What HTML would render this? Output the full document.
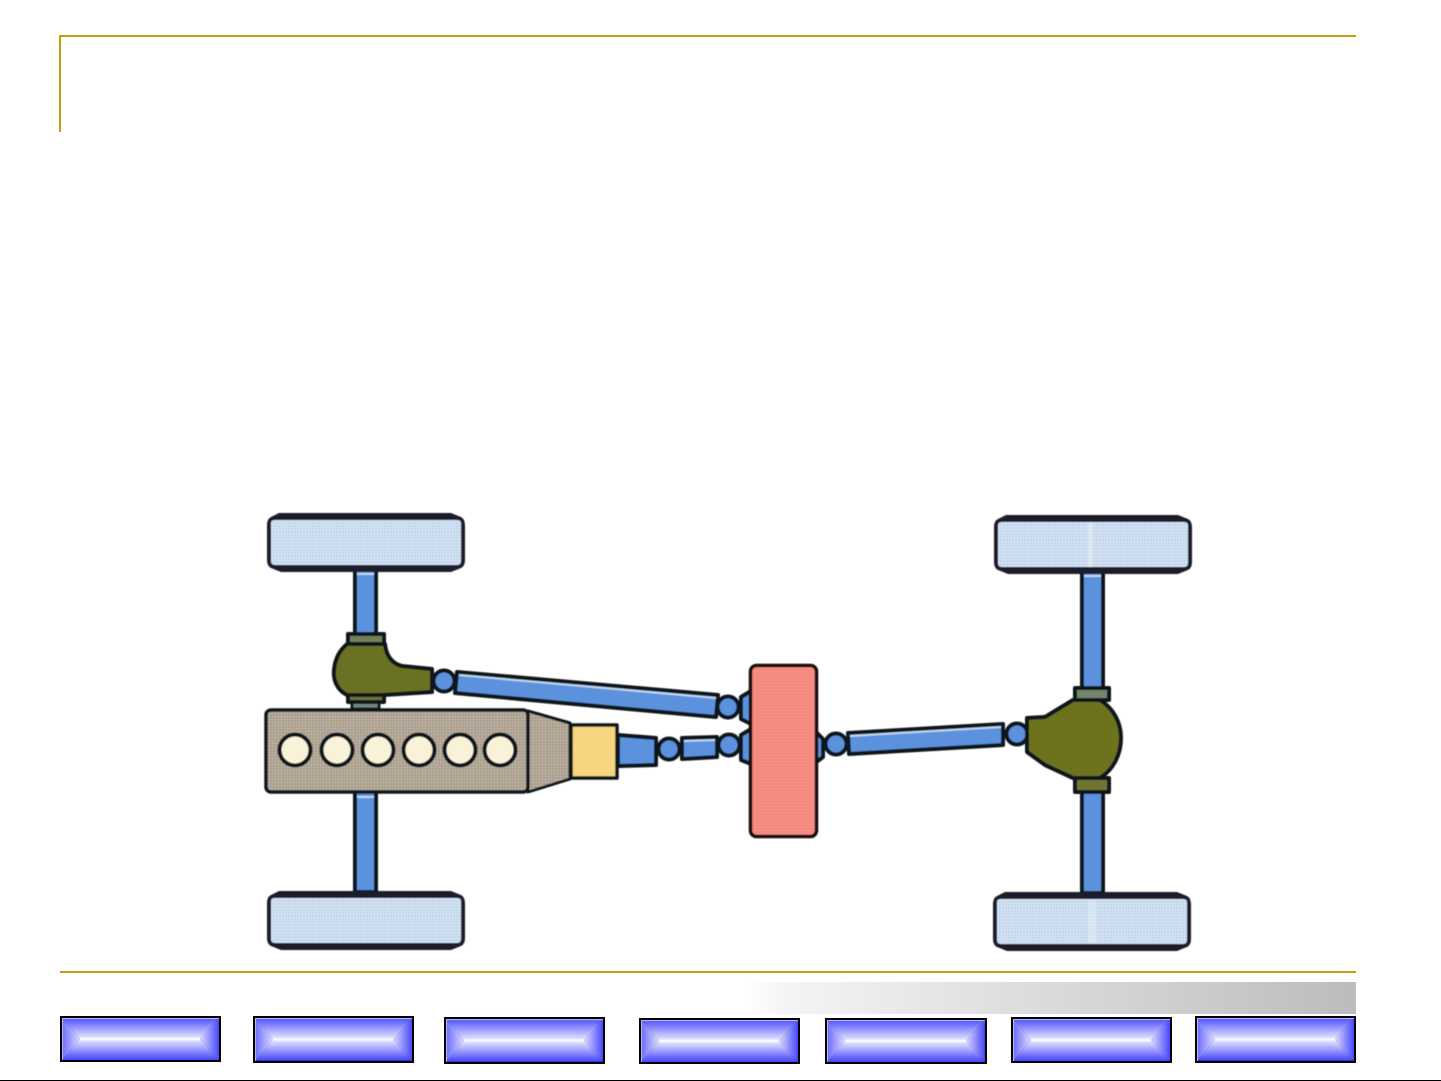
<!DOCTYPE html>
<html><head><meta charset="utf-8"><style>
html,body{margin:0;padding:0;background:#fff;width:1441px;height:1081px;overflow:hidden}
svg{display:block}
</style></head><body>
<svg width="1441" height="1081" viewBox="0 0 1441 1081" xmlns="http://www.w3.org/2000/svg">
<defs>
<filter id="soft" x="-5%" y="-5%" width="110%" height="110%"><feGaussianBlur stdDeviation="0.55"/></filter>
<filter id="line" x="-5%" y="-200%" width="110%" height="500%"><feGaussianBlur stdDeviation="0.7"/></filter>
<linearGradient id="bar" x1="0" x2="1" y1="0" y2="0"><stop offset="0" stop-color="#fff"/><stop offset=".06" stop-color="#f5f5f5"/><stop offset="1" stop-color="#bcbcbc"/></linearGradient>
<linearGradient id="bt" x1="0" x2="0" y1="0" y2="1"><stop offset="0" stop-color="#5050ff"/><stop offset=".85" stop-color="#d4d4ff"/><stop offset="1" stop-color="#e8e8ff"/></linearGradient>
<linearGradient id="bb" x1="0" x2="0" y1="1" y2="0"><stop offset="0" stop-color="#4444ff"/><stop offset=".85" stop-color="#d4d4ff"/><stop offset="1" stop-color="#e8e8ff"/></linearGradient>
<linearGradient id="bl" x1="0" x2="1" y1="0" y2="0"><stop offset="0" stop-color="#6a6aff"/><stop offset="1" stop-color="#dcdcff"/></linearGradient>
<linearGradient id="br" x1="1" x2="0" y1="0" y2="0"><stop offset="0" stop-color="#4848ff"/><stop offset="1" stop-color="#dcdcff"/></linearGradient>
<pattern id="dither" width="3" height="3" patternUnits="userSpaceOnUse"><circle cx="1" cy="1" r="0.8" fill="#000" fill-opacity=".2"/><circle cx="2.500" cy="2.500" r="0.7" fill="#fff" fill-opacity=".25"/></pattern>
<g id="wheel">
<path d="M12 0 H184 L194 4 Q198 6 198 13 V47 Q198 53 194 55 L184 59 H14 L4 55 Q0 53 0 47 V12 Q0 6 4 4 Z" fill="#1d1d2a"/>
<path d="M4 10 Q4 7 8 7 H190 Q194 7 194 10 V48 Q194 52 190 52 H8 Q4 52 4 48 Z" fill="#d0e2f6"/>
<path d="M4 10 Q4 7 8 7 H190 Q194 7 194 10 V48 Q194 52 190 52 H8 Q4 52 4 48 Z" fill="url(#dither)" opacity=".7"/>
</g>
<g id="btn">
<polygon points="0,0 157,0 138,20 18,20" fill="url(#bt)"/>
<polygon points="0,40 157,40 138,20 18,20" fill="url(#bb)"/>
<polygon points="0,0 18,20 0,40" fill="url(#bl)"/>
<polygon points="157,0 138,20 157,40" fill="url(#br)"/>
<rect x="18" y="19" width="120" height="2" fill="#fff" filter="url(#line)"/>
<rect x="0" y="0" width="157" height="1" fill="#b4b4ee"/>
<rect x="0" y="0" width="1" height="40" fill="#b4b4ee"/>
</g>
</defs>

<rect width="1441" height="1081" fill="#fff"/>

<!-- frame -->
<rect x="59" y="35" width="1297" height="2" fill="#cc9c08"/>
<rect x="59" y="35" width="2" height="97" fill="#cc9c08"/>
<rect x="60" y="971" width="1296" height="2" fill="#cc9c08"/>
<rect x="745" y="982" width="611" height="32" fill="url(#bar)"/>
<rect x="0" y="1080" width="1441" height="1" fill="#000"/>

<!-- chassis -->
<g filter="url(#soft)" stroke-linejoin="round">
<g fill="#5b92dd" stroke="#11151c" stroke-width="4">
<rect x="355" y="570" width="21" height="66"/>
<rect x="355" y="790" width="21" height="102"/>
<rect x="1082" y="572" width="21" height="118"/>
<rect x="1082" y="790" width="21" height="103"/>
<polygon points="457,672 718,695 716,717 455,693"/>
<polygon points="618,735 656,738 656,765 618,766"/>
<polygon points="682,738 717,737 717,757 682,759"/>
<polygon points="848,733 1003,724 1003,745 849,754"/>
<polygon points="741,697 751,691 751,724 741,719"/>
<polygon points="741,735 751,729 751,764 741,760"/>
<polygon points="815,731 823,739 823,757 815,763"/>
<circle cx="444" cy="681" r="10.500"/>
<circle cx="728" cy="707" r="10.500"/>
<circle cx="669" cy="749" r="10.500"/>
<circle cx="729" cy="745" r="10.500"/>
<circle cx="836" cy="744" r="10.500"/>
<circle cx="1017" cy="734" r="10.500"/>
</g>
<g stroke="#e6eef4" stroke-opacity=".75" stroke-width="2" fill="none">
<line x1="459" y1="675" x2="716" y2="698"/>
<line x1="850" y1="736" x2="1001" y2="727"/>
<line x1="684" y1="741" x2="715" y2="740"/>
<line x1="357" y1="574" x2="374" y2="574"/>
<line x1="1084" y1="576" x2="1101" y2="576"/>
<line x1="357" y1="797" x2="374" y2="797"/>
</g>

<!-- front diff -->
<rect x="348" y="634" width="36" height="11" fill="#6f8058" stroke="#11151c" stroke-width="4"/>
<rect x="352" y="698" width="27" height="11" fill="#71877a" stroke="#11151c" stroke-width="3"/>
<rect x="348" y="692" width="36" height="10" fill="#6f7530" stroke="#11151c" stroke-width="4"/>
<path d="M347 644 H385 C386 655 392 664 402 666 L432 669 V692 L383 695 H347 C337 690 333 680 334 670 C335 658 340 650 347 644 Z" fill="#6a7120" stroke="#11151c" stroke-width="4"/>

<!-- rear diff -->
<rect x="1075" y="688" width="34" height="12" fill="#77866a" stroke="#11151c" stroke-width="4"/>
<rect x="1075" y="778" width="34" height="14" fill="#6f7530" stroke="#11151c" stroke-width="4"/>
<path d="M1027 718 L1045 717 L1073 700 H1100 C1113 708 1121 722 1121 738 C1121 755 1113 770 1100 778 H1073 L1045 765 L1027 752 Z" fill="#6c731f" stroke="#11151c" stroke-width="4"/>

<!-- engine -->
<polygon points="528,711 570,723 570,779 528,792" fill="#b6a998"/>
<polygon points="528,711 570,723 570,779 528,792" fill="url(#dither)"/>
<polygon points="528,711 570,723 570,779 528,792" fill="none" stroke="#11151c" stroke-width="3"/>
<rect x="266" y="710" width="262" height="82" rx="5" fill="#b6a998"/>
<rect x="266" y="710" width="262" height="82" rx="5" fill="url(#dither)"/>
<rect x="266" y="710" width="262" height="82" rx="5" fill="none" stroke="#11151c" stroke-width="3.500"/>
<rect x="571" y="725" width="46" height="53" fill="#f7d581" stroke="#11151c" stroke-width="3.500"/>
<g fill="#f8f3d8" stroke="#11151c" stroke-width="4">
<circle cx="295" cy="750" r="15.500"/>
<circle cx="337" cy="750" r="15.500"/>
<circle cx="378" cy="750" r="15.500"/>
<circle cx="419" cy="750" r="15.500"/>
<circle cx="460" cy="750" r="15.500"/>
<circle cx="500" cy="750" r="15.500"/>
</g>

<!-- transfer box -->
<rect x="750.500" y="665.500" width="66" height="171" rx="6" fill="#f98c80" stroke="#1a0c0c" stroke-width="3.500"/>
<rect x="753" y="668" width="61" height="166" fill="url(#dither)" opacity=".4"/>

<!-- wheels -->
<use href="#wheel" x="267" y="513"/>
<use href="#wheel" x="994" y="515"/>
<use href="#wheel" x="267" y="891"/>
<use href="#wheel" x="993" y="892"/>
<rect x="1088" y="523" width="5" height="44" fill="#eef6fb" opacity=".45"/>
<rect x="1088" y="900" width="8" height="43" fill="#eef6fb" opacity=".4"/>
</g>

<!-- nav buttons -->
<g>
<rect x="60" y="1016" width="161" height="46" fill="#000"/><use href="#btn" transform="translate(62,1018) scale(1,1.05)"/>
<rect x="253" y="1016" width="161" height="47" fill="#000"/><use href="#btn" transform="translate(255,1018) scale(1,1.07)"/>
<rect x="444" y="1017" width="161" height="47" fill="#000"/><use href="#btn" transform="translate(446,1019) scale(1,1.07)"/>
<rect x="639" y="1018" width="161" height="46" fill="#000"/><use href="#btn" transform="translate(641,1020) scale(1,1.05)"/>
<rect x="825" y="1018" width="162" height="46" fill="#000"/><use href="#btn" transform="translate(827,1020) scale(1.006,1.05)"/>
<rect x="1011" y="1017" width="161" height="46" fill="#000"/><use href="#btn" transform="translate(1013,1019) scale(1,1.05)"/>
<rect x="1195" y="1016" width="161" height="47" fill="#000"/><use href="#btn" transform="translate(1197,1018) scale(1,1.07)"/>
</g>
</svg>
</body></html>
